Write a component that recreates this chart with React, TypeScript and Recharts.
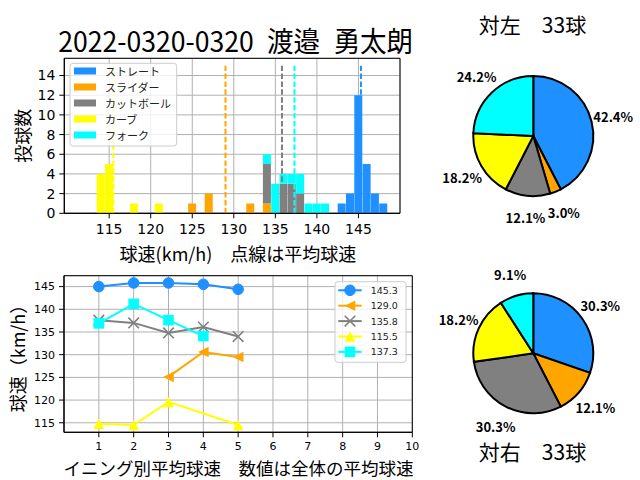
import {
  Bar,
  BarChart,
  CartesianGrid,
  Cell,
  Line,
  LineChart,
  Pie,
  PieChart,
  ReferenceArea,
  ReferenceLine,
  XAxis,
  YAxis,
} from "recharts"

const JP = '"Noto Sans CJK JP", "Noto Sans", sans-serif'
const DV = '"DejaVu Sans", sans-serif'
const GRID = "#b0b0b0"

// 球種
const PITCH_KEYS = ["straight", "slider", "cut", "curve", "fork"]
const PITCH_NAMES = ["ストレート", "スライダー", "カットボール", "カーブ", "フォーク"]
const PITCH_COLORS = ["#1e90ff", "#ffa500", "#808080", "#ffff00", "#00ffff"]
const PITCH_MARKERS = ["o", "<", "x", "^", "s"]

// 球速ヒストグラム [球速, 球数]
const STRAIGHT_SPEEDS = [[143, 1], [144, 2], [145, 12], [146, 5], [147, 2], [148, 1]]
const SLIDER_SPEEDS = [[125, 1], [127, 2], [132, 1], [134, 1]]
const CUT_SPEEDS = [[134, 4], [136, 3], [137, 3], [138, 2]]
const CURVE_SPEEDS = [[114, 4], [115, 5], [118, 1], [121, 1]]
const FORK_SPEEDS = [[134, 1], [135, 3], [136, 1], [137, 1], [138, 2], [139, 1], [140, 1], [141, 1]]
const HIST_SERIES = [STRAIGHT_SPEEDS, SLIDER_SPEEDS, CUT_SPEEDS, CURVE_SPEEDS, FORK_SPEEDS]
const SPEED_MIN = 111
const SPEED_MAX = 149
const SPEED_TICKS = [115, 120, 125, 130, 135, 140, 145]
const COUNT_TICKS = [0, 2, 4, 6, 8, 10, 12, 14]

// 平均球速
const MEAN_SPEEDS = [145.3, 129.0, 135.8, 115.5, 137.3]

// イニング別平均球速
const INNINGS = [1, 2, 3, 4, 5]
const INNING_TICKS = [1, 2, 3, 4, 5, 6, 7, 8, 9, 10]
const STRAIGHT_BY_INNING = [145.0, 145.8, 145.8, 145.5, 144.4]
const SLIDER_BY_INNING = [null, null, 125.1, 130.6, 129.5]
const CUT_BY_INNING = [137.6, 137.0, 134.8, 136.1, 134.0]
const CURVE_BY_INNING = [114.8, 114.5, 119.6, null, 114.5]
const FORK_BY_INNING = [136.9, 141.2, 137.6, 134.1, null]
const INNING_SERIES = [STRAIGHT_BY_INNING, SLIDER_BY_INNING, CUT_BY_INNING, CURVE_BY_INNING, FORK_BY_INNING]
const VELO_TICKS = [115, 120, 125, 130, 135, 140, 145]

// 対左右の球数
const LEFT_COUNTS = [14, 1, 4, 6, 8]
const RIGHT_COUNTS = [10, 4, 10, 6, 3]

const histData: any[] = []
for (let s = SPEED_MIN; s <= SPEED_MAX; s++) {
  const row: any = { speed: s }
  HIST_SERIES.forEach((series, i) => {
    const hit = series.find(([v]) => v === s)
    row[PITCH_KEYS[i]] = hit ? hit[1] : 0
  })
  histData.push(row)
}

const inningData = INNINGS.map((inning, i) => {
  const row: any = { inning }
  INNING_SERIES.forEach((series, k) => {
    row[PITCH_KEYS[k]] = series[i]
  })
  return row
})

const toPie = (counts: number[]) => counts.map((value, i) => ({ name: PITCH_NAMES[i], value }))

function drawMarker(kind: string, color: string, cx: number, cy: number, key?: any) {
  const h = 5.3
  if (kind === "o") return <circle key={key} cx={cx} cy={cy} r={h} fill={color} stroke={color} />
  if (kind === "<")
    return <polygon key={key} points={`${cx - h},${cy} ${cx + h},${cy - h} ${cx + h},${cy + h}`} fill={color} />
  if (kind === "^")
    return <polygon key={key} points={`${cx},${cy - h} ${cx - h},${cy + h} ${cx + h},${cy + h}`} fill={color} />
  if (kind === "s") return <rect key={key} x={cx - h} y={cy - h} width={2 * h} height={2 * h} fill={color} />
  return (
    <path
      key={key}
      d={`M${cx - h},${cy - h}L${cx + h},${cy + h}M${cx - h},${cy + h}L${cx + h},${cy - h}`}
      stroke={color}
      strokeWidth={1.6}
      fill="none"
    />
  )
}

const dotFor = (kind: string, color: string) => (props: any) => {
  const { cx, cy, index } = props
  if (cx == null || cy == null || Number.isNaN(cy)) return <g key={`e-${index}`} />
  return drawMarker(kind, color, cx, cy, `d-${index}`)
}

const RADIAN = Math.PI / 180
const pctLabel = (props: any) => {
  const { cx, cy, midAngle, outerRadius, percent, index } = props
  const r = outerRadius * 1.37
  const x = cx + r * Math.cos(-midAngle * RADIAN)
  const y = cy + r * Math.sin(-midAngle * RADIAN)
  return (
    <text
      key={`l-${index}`}
      x={x}
      y={y}
      textAnchor="middle"
      dominantBaseline="central"
      fontSize={13}
      fontWeight="bold"
      fontFamily={JP}
      fill="#000"
    >
      {`${(percent * 100).toFixed(1)}%`}
    </text>
  )
}

function PitchPie({ counts, cy, height }: { counts: number[]; cy: number; height: number }) {
  return (
    <PieChart width={220} height={height} margin={{ top: 0, right: 0, bottom: 0, left: 0 }}>
      <Pie
        data={toPie(counts)}
        dataKey="value"
        cx={113.3}
        cy={cy}
        outerRadius={60}
        startAngle={90}
        endAngle={-270}
        stroke="#000"
        strokeWidth={2}
        label={pctLabel}
        labelLine={false}
        isAnimationActive={false}
      >
        {counts.map((_, i) => (
          <Cell key={`c-${i}`} fill={PITCH_COLORS[i]} />
        ))}
      </Pie>
    </PieChart>
  )
}

const bigTick = { fill: "#000", fontSize: 14, fontFamily: DV }
const smallTick = { fill: "#000", fontSize: 11, fontFamily: DV }

export default function App() {
  return (
    <div style={{ position: "absolute", left: 0, top: 0, width: 640, height: 480, background: "#fff" }}>
      <div style={{ position: "absolute", left: 0, top: 0 }}>
        <BarChart
          width={420}
          height={250}
          data={histData}
          margin={{ top: 58.3, right: 20, left: 24.3, bottom: 6.7 }}
          barCategoryGap={0}
          barGap={0}
        >
          <XAxis
            dataKey="speed"
            type="number"
            domain={[109.6, 150]}
            allowDataOverflow
            ticks={SPEED_TICKS}
            interval={0}
            height={30}
            tick={bigTick}
            tickSize={5}
            tickMargin={6}
            tickLine={{ stroke: "#000" }}
            axisLine={{ stroke: "#000" }}
          />
          <YAxis
            type="number"
            domain={[0, 15.75]}
            allowDataOverflow
            ticks={COUNT_TICKS}
            interval={0}
            width={40}
            tick={bigTick}
            tickSize={5}
            tickMargin={4}
            tickLine={{ stroke: "#000" }}
            axisLine={{ stroke: "#000" }}
          />
          {PITCH_KEYS.map((k, i) => (
            <Bar key={k} dataKey={k} stackId="h" fill={PITCH_COLORS[i]} isAnimationActive={false} />
          ))}
          <CartesianGrid stroke={GRID} strokeWidth={1} />
          {MEAN_SPEEDS.map((m, i) => (
            <ReferenceLine
              key={`m-${i}`}
              segment={[
                { x: m, y: 0 },
                { x: m, y: 15 },
              ]}
              stroke={PITCH_COLORS[i]}
              strokeWidth={2}
              strokeDasharray="5.5 2.4"
            />
          ))}
          <ReferenceArea x1={109.6} x2={150} y1={0} y2={15.75} fill="none" fillOpacity={0} stroke="#000" strokeWidth={1} />
        </BarChart>
      </div>

      <div style={{ position: "absolute", left: 0, top: 250 }}>
        <LineChart width={430} height={230} data={inningData} margin={{ top: 25.7, right: 17.7, left: 24, bottom: 22.7 }}>
          <CartesianGrid stroke={GRID} strokeWidth={1} />
          <XAxis
            dataKey="inning"
            type="number"
            domain={[0, 10]}
            allowDataOverflow
            ticks={INNING_TICKS}
            interval={0}
            height={25}
            tick={smallTick}
            tickSize={5}
            tickMargin={5}
            tickLine={{ stroke: "#000" }}
            axisLine={{ stroke: "#000" }}
          />
          <YAxis
            type="number"
            domain={[112.9, 147.4]}
            allowDataOverflow
            ticks={VELO_TICKS}
            interval={0}
            width={40}
            tick={smallTick}
            tickSize={5}
            tickMargin={4}
            tickLine={{ stroke: "#000" }}
            axisLine={{ stroke: "#000" }}
          />
          {PITCH_KEYS.map((k, i) => (
            <Line
              key={k}
              type="linear"
              dataKey={k}
              stroke={PITCH_COLORS[i]}
              strokeWidth={2}
              dot={dotFor(PITCH_MARKERS[i], PITCH_COLORS[i])}
              activeDot={false}
              connectNulls
              isAnimationActive={false}
            />
          ))}
          <ReferenceArea x1={0} x2={10} y1={112.9} y2={147.4} fill="none" fillOpacity={0} stroke="#000" strokeWidth={1} />
        </LineChart>
      </div>

      <div style={{ position: "absolute", left: 420, top: 0 }}>
        <PitchPie counts={LEFT_COUNTS} cy={136} height={250} />
      </div>
      <div style={{ position: "absolute", left: 420, top: 250 }}>
        <PitchPie counts={RIGHT_COUNTS} cy={103.3} height={230} />
      </div>

      <svg width={640} height={480} style={{ position: "absolute", left: 0, top: 0, pointerEvents: "none" }}>
        <text
          x={235.7}
          y={40}
          textAnchor="middle"
          dominantBaseline="central"
          fontSize={28}
          fontFamily={JP}
          textLength={355}
          lengthAdjust="spacingAndGlyphs"
        >
          {"2022-0320-0320\u2002渡邉\u2002勇太朗"}
        </text>

        <rect x={70} y={63.3} width={106.7} height={82.7} rx={3} fill="#fff" fillOpacity={0.8} stroke="#cccccc" />
        {PITCH_NAMES.map((n, i) => {
          const y = 71 + i * 16
          return (
            <g key={n}>
              <rect x={74} y={y - 3.5} width={22} height={7} fill={PITCH_COLORS[i]} />
              <text x={105} y={y} dominantBaseline="central" fontSize={11} fontFamily={JP} fill="#222">
                {n}
              </text>
            </g>
          )
        })}

        <text x={238} y={253} textAnchor="middle" dominantBaseline="central" fontSize={18} fontFamily={JP}>
          球速(km/h)　点線は平均球速
        </text>
        <text
          transform="translate(22,135.8) rotate(-90)"
          textAnchor="middle"
          dominantBaseline="central"
          fontSize={18}
          fontFamily={JP}
        >
          投球数
        </text>

        <rect x={335} y={281.7} width={71} height={80.6} rx={3} fill="#fff" fillOpacity={0.8} stroke="#cccccc" />
        {MEAN_SPEEDS.map((m, i) => {
          const y = 290.3 + i * 15.4
          return (
            <g key={`lg-${i}`}>
              <line x1={338.3} x2={361.7} y1={y} y2={y} stroke={PITCH_COLORS[i]} strokeWidth={2} />
              {drawMarker(PITCH_MARKERS[i], PITCH_COLORS[i], 350, y)}
              <text x={370.7} y={y} dominantBaseline="central" fontSize={9.5} fontFamily={DV} fill="#222">
                {m.toFixed(1)}
              </text>
            </g>
          )
        })}

        <text x={238.5} y={467} textAnchor="middle" dominantBaseline="central" fontSize={17.5} fontFamily={JP}>
          イニング別平均球速　数値は全体の平均球速
        </text>
        <text
          transform="translate(17,354) rotate(-90)"
          textAnchor="middle"
          dominantBaseline="central"
          fontSize={18}
          fontFamily={JP}
        >
          球速（km/h）
        </text>

        <text x={532.5} y={24} textAnchor="middle" dominantBaseline="central" fontSize={21} fontFamily={JP}>
          対左　33球
        </text>
        <text x={532.5} y={451} textAnchor="middle" dominantBaseline="central" fontSize={21} fontFamily={JP}>
          対右　33球
        </text>
      </svg>
    </div>
  )
}
